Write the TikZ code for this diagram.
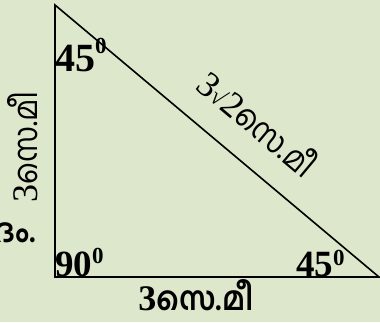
\documentclass[tikz,border=0pt]{standalone}
\usepackage{fontspec}
\setmainfont{Liberation Serif}
\newfontfamily\mal[Script=Malayalam]{Hind Kochi}
\definecolor{bg}{HTML}{DDE7CB}
\newcommand{\dg}[1]{\raisebox{#1pt}{\fontsize{23}{23}\selectfont 0}}
\newcommand{\ml}[1]{\scalebox{0.9}[1]{\fontsize{33}{35}\selectfont\mal #1}}
\tikzset{
  side/.style={line width=1.6pt, line join=miter},
  ang/.style={inner sep=0pt, font=\fontsize{37}{40}\selectfont\bfseries},
  len/.style={inner sep=0pt, font=\fontsize{36}{38}\selectfont}
}
\begin{document}
\begin{tikzpicture}[x=1pt,y=-1pt]
\fill[bg] (0,0) rectangle (380,322);
\useasboundingbox (0,0) rectangle (380,322);
\coordinate (A) at (55,5);
\coordinate (B) at (55,277);
\coordinate (C) at (379,277);
\draw[side] (A) -- (B) -- (C) -- cycle;
\node[ang, anchor=base west, font=\fontsize{40}{42}\selectfont\bfseries] (a1) at (55,71) {45\dg{18}};
\node[ang, anchor=base west] (a2) at (55,276) {90\dg{13}};
\node[ang, anchor=base west] (a3) at (296,276) {45\dg{11}};
\node[len, anchor=base, font=\fontsize{36}{38}\selectfont\bfseries] (lb) at (196,310) {3\ml{\bfseries സെ.മീ}};
\node[len, anchor=base, rotate=90] (ll) at (37,147) {3\ml{സെ.മീ}};
\node[len, anchor=base east] (lx) at (36,242) {\ml{\bfseries ദം.}};
\node[len, anchor=base, rotate=-39.9] (lh) at (249,134) {3{\fontsize{24}{24}\selectfont √}2\ml{സെ.മീ}};
\end{tikzpicture}
\end{document}
